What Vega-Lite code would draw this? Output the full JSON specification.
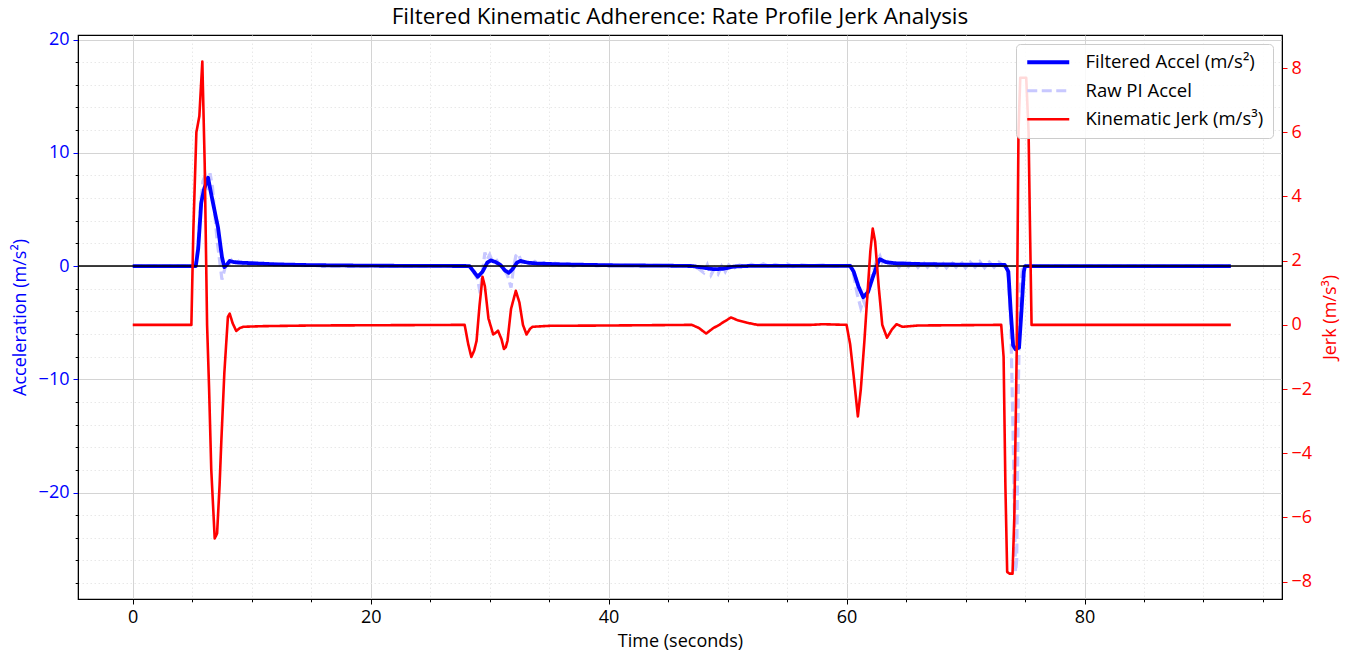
{
"$schema": "https://vega.github.io/schema/vega-lite/v6.json",
"width": 1204, "height": 564,
"autosize": {"type": "none"},
"padding": {"left": 78, "top": 35, "right": 66, "bottom": 55},
"title": {"text": "Filtered Kinematic Adherence: Rate Profile Jerk Analysis", "fontSize": 22.5, "fontWeight": "normal", "color": "black", "offset": 2, "font": "Open Sans"},
"config": {
  "font": "Open Sans",
  "view": {"stroke": "black", "strokeWidth": 1.2},
  "axis": {"labelFontSize": 18, "titleFontSize": 18, "titleFontWeight": "normal", "labelColor": "black", "titleColor": "black", "domainColor": "black", "tickColor": "black", "labelFont": "Open Sans", "titleFont": "Open Sans", "tickSize": 5, "labelPadding": 4, "gridColor": "#d4d4d4", "gridWidth": 1},
  "legend": {"orient": "top-right", "offset": 9, "padding": 9, "fillColor": "rgba(255,255,255,0.85)", "strokeColor": "#cccccc", "cornerRadius": 4, "symbolType": "M-1,0H5", "symbolSize": 196, "labelFontSize": 18.5, "labelFont": "Open Sans", "labelOffset": 42, "rowPadding": 9.5, "labelLimit": 400}
},
"datasets": {
  "raw": [
{"t":0,"v":0},{"t":5.3,"v":0},{"t":5.5,"v":2},{"t":5.7,"v":5.5},{"t":5.9,"v":7.5},{"t":6.1,"v":8.0},{"t":6.3,"v":6.5},{"t":6.5,"v":8.2},{"t":6.7,"v":7.0},{"t":6.9,"v":4.5},{"t":7.1,"v":2.2},{"t":7.3,"v":0.5},{"t":7.5,"v":-1.2},{"t":7.7,"v":-0.4},{"t":7.9,"v":0.4},{"t":8.1,"v":0.15},{"t":8.3,"v":0.5},{"t":8.6,"v":0.05},{"t":8.9,"v":0.4},{"t":9.2,"v":0.15},{"t":9.5,"v":0.35},{"t":9.8,"v":0.05},{"t":10.2,"v":0.3},{"t":10.6,"v":0.05},{"t":11.0,"v":0.25},{"t":11.5,"v":0.0},{"t":12,"v":0.2},{"t":12.5,"v":0.05},{"t":13,"v":0.12},{"t":14,"v":0.03},{"t":15,"v":0.05},{"t":16,"v":0},{"t":28.3,"v":0},{"t":28.7,"v":-0.6},{"t":29.0,"v":-1.2},{"t":29.2,"v":-2.4},{"t":29.4,"v":-0.5},{"t":29.6,"v":1.2},{"t":29.8,"v":0.6},{"t":30.0,"v":1.0},{"t":30.3,"v":0.3},{"t":30.6,"v":0.5},{"t":30.9,"v":0.0},{"t":31.2,"v":-0.3},{"t":31.5,"v":-0.8},{"t":31.8,"v":-1.9},{"t":32.0,"v":-0.2},{"t":32.2,"v":0.9},{"t":32.4,"v":1.1},{"t":32.7,"v":0.3},{"t":33.0,"v":0.5},{"t":33.4,"v":0.15},{"t":33.8,"v":0.4},{"t":34.2,"v":0.1},{"t":34.6,"v":0.3},{"t":35,"v":0.05},{"t":35.5,"v":0.25},{"t":36,"v":0.05},{"t":36.5,"v":0.2},{"t":37,"v":0.0},{"t":38,"v":0.12},{"t":39,"v":0.02},{"t":40,"v":0.1},{"t":42,"v":0.03},{"t":44,"v":0.06},{"t":46,"v":0},{"t":47,"v":0.05},{"t":47.5,"v":-0.2},{"t":48,"v":-0.6},{"t":48.3,"v":0.1},{"t":48.6,"v":-0.8},{"t":48.9,"v":-0.2},{"t":49.2,"v":-0.7},{"t":49.5,"v":0.0},{"t":49.8,"v":-0.5},{"t":50.1,"v":0.1},{"t":50.5,"v":-0.2},{"t":51,"v":0.1},{"t":51.5,"v":-0.1},{"t":52,"v":0.15},{"t":52.5,"v":-0.05},{"t":53,"v":0.2},{"t":53.5,"v":-0.05},{"t":54,"v":0.15},{"t":54.5,"v":0.0},{"t":55,"v":0.2},{"t":55.5,"v":-0.05},{"t":56,"v":0.15},{"t":57,"v":0.0},{"t":58,"v":0.1},{"t":59,"v":0.0},{"t":60.3,"v":0.05},{"t":60.6,"v":-0.8},{"t":60.9,"v":-2.5},{"t":61.2,"v":-3.7},{"t":61.4,"v":-3.0},{"t":61.6,"v":-3.5},{"t":61.9,"v":-1.5},{"t":62.2,"v":-0.6},{"t":62.5,"v":0.4},{"t":62.8,"v":0.9},{"t":63.0,"v":0.3},{"t":63.3,"v":0.6},{"t":63.6,"v":0.1},{"t":64,"v":0.5},{"t":64.4,"v":-0.1},{"t":64.8,"v":0.45},{"t":65.2,"v":-0.05},{"t":65.6,"v":0.4},{"t":66,"v":-0.1},{"t":66.4,"v":0.4},{"t":66.8,"v":-0.1},{"t":67.2,"v":0.35},{"t":67.6,"v":-0.1},{"t":68,"v":0.4},{"t":68.4,"v":-0.15},{"t":68.8,"v":0.35},{"t":69.2,"v":-0.1},{"t":69.6,"v":0.4},{"t":70,"v":-0.15},{"t":70.4,"v":0.35},{"t":70.8,"v":-0.1},{"t":71.2,"v":0.4},{"t":71.6,"v":-0.15},{"t":72,"v":0.35},{"t":72.4,"v":-0.1},{"t":72.8,"v":0.35},{"t":73.2,"v":0.0},{"t":73.4,"v":0},{"t":73.6,"v":-1},{"t":73.8,"v":-5},{"t":74.0,"v":-15},{"t":74.2,"v":-27},{"t":74.3,"v":-26},{"t":74.45,"v":-10},{"t":74.6,"v":-2},{"t":74.8,"v":0},{"t":92.3,"v":0}
  ],
  "filt": [
{"t":0,"v":0},{"t":5.3,"v":0},{"t":5.5,"v":1.5},{"t":5.76,"v":5.6},{"t":6.0,"v":6.8},{"t":6.33,"v":7.8},{"t":6.7,"v":5.8},{"t":7.17,"v":3.4},{"t":7.5,"v":0.8},{"t":7.7,"v":-0.1},{"t":7.9,"v":0.1},{"t":8.15,"v":0.45},{"t":8.5,"v":0.35},{"t":9.0,"v":0.3},{"t":10,"v":0.25},{"t":12,"v":0.15},{"t":15,"v":0.08},{"t":20,"v":0.03},{"t":28.3,"v":0.0},{"t":28.6,"v":-0.4},{"t":29.0,"v":-0.95},{"t":29.4,"v":-0.5},{"t":29.8,"v":0.3},{"t":30.1,"v":0.5},{"t":30.5,"v":0.35},{"t":30.9,"v":0.1},{"t":31.3,"v":-0.4},{"t":31.6,"v":-0.6},{"t":31.9,"v":-0.3},{"t":32.3,"v":0.3},{"t":32.6,"v":0.45},{"t":33.2,"v":0.3},{"t":34,"v":0.22},{"t":36,"v":0.15},{"t":40,"v":0.07},{"t":45,"v":0.03},{"t":47,"v":0},{"t":48,"v":-0.15},{"t":48.8,"v":-0.28},{"t":49.6,"v":-0.25},{"t":50.5,"v":-0.05},{"t":52,"v":0.02},{"t":60.3,"v":0.02},{"t":60.6,"v":-0.5},{"t":61.0,"v":-1.8},{"t":61.4,"v":-2.75},{"t":61.8,"v":-2.3},{"t":62.2,"v":-1.0},{"t":62.6,"v":0.2},{"t":62.8,"v":0.6},{"t":63.3,"v":0.35},{"t":64,"v":0.25},{"t":66,"v":0.18},{"t":70,"v":0.12},{"t":73.3,"v":0.1},{"t":73.6,"v":-0.5},{"t":73.8,"v":-4},{"t":74.0,"v":-7.0},{"t":74.2,"v":-7.35},{"t":74.5,"v":-7.2},{"t":74.7,"v":-4},{"t":74.9,"v":-0.5},{"t":75.0,"v":0},{"t":92.3,"v":0}
  ],
  "jerk": [
{"t":0,"v":0},{"t":4.93,"v":0},{"t":5.1,"v":3},{"t":5.35,"v":6.0},{"t":5.6,"v":6.5},{"t":5.85,"v":8.2},{"t":6.05,"v":5.0},{"t":6.25,"v":0},{"t":6.42,"v":-2.0},{"t":6.6,"v":-4.5},{"t":6.89,"v":-6.65},{"t":7.09,"v":-6.5},{"t":7.3,"v":-5.0},{"t":7.45,"v":-3.6},{"t":7.7,"v":-1.5},{"t":8.0,"v":0.25},{"t":8.15,"v":0.35},{"t":8.4,"v":0.05},{"t":8.7,"v":-0.19},{"t":9.0,"v":-0.1},{"t":9.3,"v":-0.06},{"t":11,"v":-0.04},{"t":15,"v":-0.02},{"t":27.9,"v":0},{"t":28.2,"v":-0.6},{"t":28.46,"v":-1.0},{"t":28.7,"v":-0.8},{"t":28.9,"v":-0.5},{"t":29.15,"v":0.6},{"t":29.4,"v":1.5},{"t":29.6,"v":1.2},{"t":29.9,"v":0.2},{"t":30.3,"v":-0.3},{"t":30.5,"v":-0.25},{"t":30.7,"v":-0.18},{"t":31.0,"v":-0.45},{"t":31.2,"v":-0.75},{"t":31.35,"v":-0.7},{"t":31.5,"v":-0.5},{"t":31.8,"v":0.5},{"t":32.2,"v":1.06},{"t":32.5,"v":0.7},{"t":32.8,"v":0.0},{"t":33.1,"v":-0.3},{"t":33.4,"v":-0.12},{"t":33.6,"v":-0.06},{"t":35,"v":-0.03},{"t":40,"v":-0.02},{"t":47,"v":0},{"t":47.6,"v":-0.1},{"t":48.2,"v":-0.27},{"t":48.8,"v":-0.1},{"t":49.3,"v":0.0},{"t":49.7,"v":0.1},{"t":50.3,"v":0.23},{"t":50.8,"v":0.15},{"t":51.6,"v":0.07},{"t":52.5,"v":0.0},{"t":57,"v":0.0},{"t":58,"v":0.02},{"t":60.0,"v":0.0},{"t":60.3,"v":-0.6},{"t":60.6,"v":-1.6},{"t":60.95,"v":-2.85},{"t":61.2,"v":-2.0},{"t":61.5,"v":-0.5},{"t":61.8,"v":1.2},{"t":62.0,"v":2.3},{"t":62.2,"v":3.0},{"t":62.4,"v":2.6},{"t":62.7,"v":1.2},{"t":63.0,"v":0.0},{"t":63.4,"v":-0.4},{"t":63.8,"v":-0.15},{"t":64.2,"v":0.02},{"t":64.7,"v":-0.06},{"t":66,"v":-0.02},{"t":73.0,"v":0},{"t":73.2,"v":-1.0},{"t":73.35,"v":-5},{"t":73.5,"v":-7.7},{"t":73.7,"v":-7.75},{"t":73.95,"v":-7.75},{"t":74.1,"v":-6},{"t":74.3,"v":-0.85},{"t":74.45,"v":6},{"t":74.6,"v":7.7},{"t":75.1,"v":7.7},{"t":75.3,"v":6},{"t":75.4,"v":3.45},{"t":75.55,"v":0},{"t":92.3,"v":0}
  ]
},
"resolve": {"scale": {"x": "independent", "y": "independent"}, "axis": {"x": "independent", "y": "independent"}},
"layer": [
  {
    "data": {"name": "raw"},
    "transform": [{"calculate": "'R'", "as": "s"}],
    "mark": {"type": "line", "strokeCap": "butt"},
    "encoding": {
      "x": {"field": "t", "type": "quantitative", "scale": {"domain": [-4.6, 96.6], "nice": false, "zero": false},
            "axis": {"orient": "bottom", "values": [5,10,15,25,30,35,45,50,55,65,70,75,85,90,95], "labels": false, "title": null, "tickSize": 2.8, "domain": false, "grid": true, "gridDash": [1.5,2.5], "gridColor": "#e8e8e8", "zindex": 0}},
      "y": {"field": "v", "type": "quantitative", "scale": {"domain": [-29.4, 20.4], "nice": false, "zero": false},
            "axis": {"orient": "left", "values": [-28,-26,-24,-22,-18,-16,-14,-12,-8,-6,-4,-2,2,4,6,8,12,14,16,18], "labels": false, "title": null, "tickSize": 2.8, "domain": false, "grid": true, "gridDash": [1.5,2.5], "gridColor": "#e8e8e8", "zindex": 0}},
      "color": {"field": "s", "type": "nominal", "scale": {"domain": ["F","R","J"], "range": ["#0000ff","#c8c8ff","#ff0000"]},
                "legend": {"title": null, "labelExpr": "datum.label == 'F' ? 'Filtered Accel (m/s²)' : datum.label == 'R' ? 'Raw PI Accel' : 'Kinematic Jerk (m/s³)'"}},
      "strokeDash": {"field": "s", "type": "nominal", "scale": {"domain": ["F","R","J"], "range": [[1,0],[10,4.5],[1,0]]},
                "legend": {"title": null, "labelExpr": "datum.label == 'F' ? 'Filtered Accel (m/s²)' : datum.label == 'R' ? 'Raw PI Accel' : 'Kinematic Jerk (m/s³)'"}},
      "strokeWidth": {"field": "s", "type": "nominal", "scale": {"domain": ["F","R","J"], "range": [3.8, 2.6, 3.3]},
                "legend": {"title": null, "labelExpr": "datum.label == 'F' ? 'Filtered Accel (m/s²)' : datum.label == 'R' ? 'Raw PI Accel' : 'Kinematic Jerk (m/s³)'"}}
    }
  },
  {
    "data": {"name": "filt"},
    "transform": [{"calculate": "'F'", "as": "s"}],
    "mark": {"type": "line", "strokeJoin": "round"},
    "encoding": {
      "x": {"field": "t", "type": "quantitative", "scale": {"domain": [-4.6, 96.6], "nice": false, "zero": false},
            "axis": {"orient": "bottom", "values": [0,20,40,60,80], "title": "Time (seconds)", "grid": true, "titlePadding": 6, "zindex": 0}},
      "y": {"field": "v", "type": "quantitative", "scale": {"domain": [-29.4, 20.4], "nice": false, "zero": false},
            "axis": {"orient": "left", "values": [-20,-10,0,10,20], "title": "Acceleration (m/s²)", "titleColor": "#0000ff", "labelColor": "#0000ff", "tickColor": "#0000ff", "grid": true, "titlePadding": 9, "zindex": 0}},
      "color": {"field": "s", "type": "nominal", "scale": {"domain": ["F","R","J"], "range": ["#0000ff","#c8c8ff","#ff0000"]},
                "legend": {"title": null, "labelExpr": "datum.label == 'F' ? 'Filtered Accel (m/s²)' : datum.label == 'R' ? 'Raw PI Accel' : 'Kinematic Jerk (m/s³)'"}},
      "strokeDash": {"field": "s", "type": "nominal", "scale": {"domain": ["F","R","J"], "range": [[1,0],[10,4.5],[1,0]]},
                "legend": {"title": null, "labelExpr": "datum.label == 'F' ? 'Filtered Accel (m/s²)' : datum.label == 'R' ? 'Raw PI Accel' : 'Kinematic Jerk (m/s³)'"}},
      "strokeWidth": {"field": "s", "type": "nominal", "scale": {"domain": ["F","R","J"], "range": [3.8, 2.6, 3.3]},
                "legend": {"title": null, "labelExpr": "datum.label == 'F' ? 'Filtered Accel (m/s²)' : datum.label == 'R' ? 'Raw PI Accel' : 'Kinematic Jerk (m/s³)'"}}
    }
  },
  {
    "data": {"values": [{}]},
    "mark": {"type": "rule", "color": "black", "strokeWidth": 1.4},
    "encoding": {
      "y": {"datum": 0, "type": "quantitative", "scale": {"domain": [-29.4, 20.4], "nice": false, "zero": false}, "axis": null}
    }
  },
  {
    "data": {"name": "jerk"},
    "transform": [{"calculate": "'J'", "as": "s"}],
    "mark": {"type": "line", "strokeJoin": "round"},
    "encoding": {
      "x": {"field": "t", "type": "quantitative", "scale": {"domain": [-4.6, 96.6], "nice": false, "zero": false}, "axis": null},
      "y": {"field": "v", "type": "quantitative", "scale": {"domain": [-8.54, 9.03], "nice": false, "zero": false},
            "axis": {"orient": "right", "values": [-8,-6,-4,-2,0,2,4,6,8], "title": "Jerk (m/s³)", "titleAngle": 270, "titleColor": "#ff0000", "labelColor": "#ff0000", "tickColor": "#ff0000", "grid": false, "titlePadding": 28}},
      "color": {"field": "s", "type": "nominal", "scale": {"domain": ["F","R","J"], "range": ["#0000ff","#c8c8ff","#ff0000"]},
                "legend": {"title": null, "labelExpr": "datum.label == 'F' ? 'Filtered Accel (m/s²)' : datum.label == 'R' ? 'Raw PI Accel' : 'Kinematic Jerk (m/s³)'"}},
      "strokeDash": {"field": "s", "type": "nominal", "scale": {"domain": ["F","R","J"], "range": [[1,0],[10,4.5],[1,0]]},
                "legend": {"title": null, "labelExpr": "datum.label == 'F' ? 'Filtered Accel (m/s²)' : datum.label == 'R' ? 'Raw PI Accel' : 'Kinematic Jerk (m/s³)'"}},
      "strokeWidth": {"field": "s", "type": "nominal", "scale": {"domain": ["F","R","J"], "range": [3.8, 2.6, 3.3]},
                "legend": {"title": null, "labelExpr": "datum.label == 'F' ? 'Filtered Accel (m/s²)' : datum.label == 'R' ? 'Raw PI Accel' : 'Kinematic Jerk (m/s³)'"}}
    }
  }
]
}
